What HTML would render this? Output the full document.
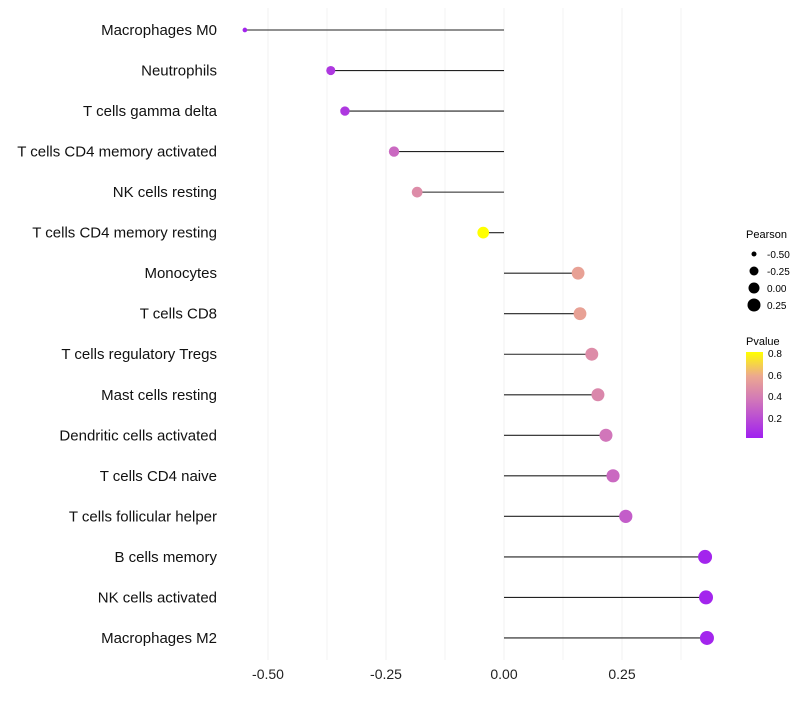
<!DOCTYPE html>
<html><head><meta charset="utf-8"><style>
body{margin:0;background:#fff;font-family:"Liberation Sans",sans-serif}
svg text{font-family:"Liberation Sans",sans-serif}
</style></head><body>
<svg id="chart" width="800" height="700" xmlns="http://www.w3.org/2000/svg">
<g id="grid"></g>
<g id="marks"></g>
<g id="ylabels"></g>
<g id="xlabels"></g>
<g font-size="10" fill="#000">
<text x="746" y="238" font-size="11">Pearson</text>
<circle cx="754" cy="254" r="2.5"/><text x="767" y="258">-0.50</text>
<circle cx="754" cy="271" r="4.5"/><text x="767" y="275">-0.25</text>
<circle cx="754" cy="288" r="5.5"/><text x="767" y="292">0.00</text>
<circle cx="754" cy="305" r="6.5"/><text x="767" y="309">0.25</text>
</g>
<g font-size="10" fill="#000">
<defs><linearGradient id="pg" x1="0" y1="1" x2="0" y2="0">
<stop offset="0" stop-color="#A020F0"/><stop offset="0.45" stop-color="#D278B8"/><stop offset="0.72" stop-color="#ECA890"/><stop offset="1" stop-color="#FFFF00"/></linearGradient></defs>
<text x="746" y="345" font-size="11">Pvalue</text>
<rect x="746" y="352" width="17" height="86" fill="url(#pg)"/>
<text x="768" y="357">0.8</text>
<text x="768" y="379">0.6</text>
<text x="768" y="400">0.4</text>
<text x="768" y="422">0.2</text>
</g>
</svg>
<script>
const categories=["Macrophages M0","Neutrophils","T cells gamma delta","T cells CD4 memory activated","NK cells resting","T cells CD4 memory resting","Monocytes","T cells CD8","T cells regulatory  Tregs ","Mast cells resting","Dendritic cells activated","T cells CD4 naive","T cells follicular helper","B cells memory","NK cells activated","Macrophages M2"];
const pearson=[-0.549,-0.367,-0.337,-0.233,-0.184,-0.044,0.157,0.161,0.186,0.199,0.216,0.231,0.258,0.426,0.428,0.430];
const pvalue=[0.02,0.1,0.1,0.3,0.45,0.8,0.55,0.55,0.45,0.43,0.35,0.3,0.25,0.02,0.02,0.02];
const xTicks=[-0.5,-0.25,0,0.25];
const xTickLabels=["-0.50","-0.25","0.00","0.25"];
const minorTicks=[-0.375,-0.125,0.125,0.375];
const NS="http://www.w3.org/2000/svg";
const x=v=>504+v*472;
const y=i=>30+i*40.53;
const rad=v=>{const t=Math.max(0,Math.min(1,(v+0.55)/0.98));return 2+5*Math.pow(t,0.4);};
function lerp(a,b,t){return a.map((c,k)=>Math.round(c+(b[k]-c)*t));}
const stops=[[0,[160,32,240]],[0.36,[210,120,184]],[0.58,[236,168,144]],[0.8,[255,255,0]]];
function col(p){if(p<=stops[0][0])return 'rgb('+stops[0][1]+')';for(let k=1;k<stops.length;k++){if(p<=stops[k][0]){const t=(p-stops[k-1][0])/(stops[k][0]-stops[k-1][0]);return 'rgb('+lerp(stops[k-1][1],stops[k][1],t)+')';}}return 'rgb(255,255,0)';}
function mk(tag,attrs,parent){const e=document.createElementNS(NS,tag);for(const k in attrs)e.setAttribute(k,attrs[k]);parent.appendChild(e);return e;}
const grid=document.getElementById('grid'),marks=document.getElementById('marks'),yl=document.getElementById('ylabels'),xl=document.getElementById('xlabels');
minorTicks.forEach(t=>{const l=mk('line',{x1:x(t),x2:x(t),y1:8,y2:660,stroke:'#f3f3f3','stroke-width':1},grid);

});
xTicks.forEach((t,i)=>{const l=mk('line',{x1:x(t),x2:x(t),y1:8,y2:660,stroke:'#f0f0f0','stroke-width':1},grid);


const tx=mk('text',{x:x(t),y:679,'text-anchor':'middle','font-size':14,fill:'#222'},xl);tx.textContent=xTickLabels[i];

});
categories.forEach((c,i)=>{
const l=mk('line',{x1:x(0),x2:x(pearson[i]),y1:y(i),y2:y(i),stroke:'#222','stroke-width':1.1},marks);


const ci=mk('circle',{cx:x(pearson[i]),cy:y(i),r:rad(pearson[i]),fill:col(pvalue[i])},marks);


const t=mk('text',{x:217,y:y(i)+5,'text-anchor':'end','font-size':15,fill:'#111'},yl);t.textContent=c;


});
</script>
</body></html>
